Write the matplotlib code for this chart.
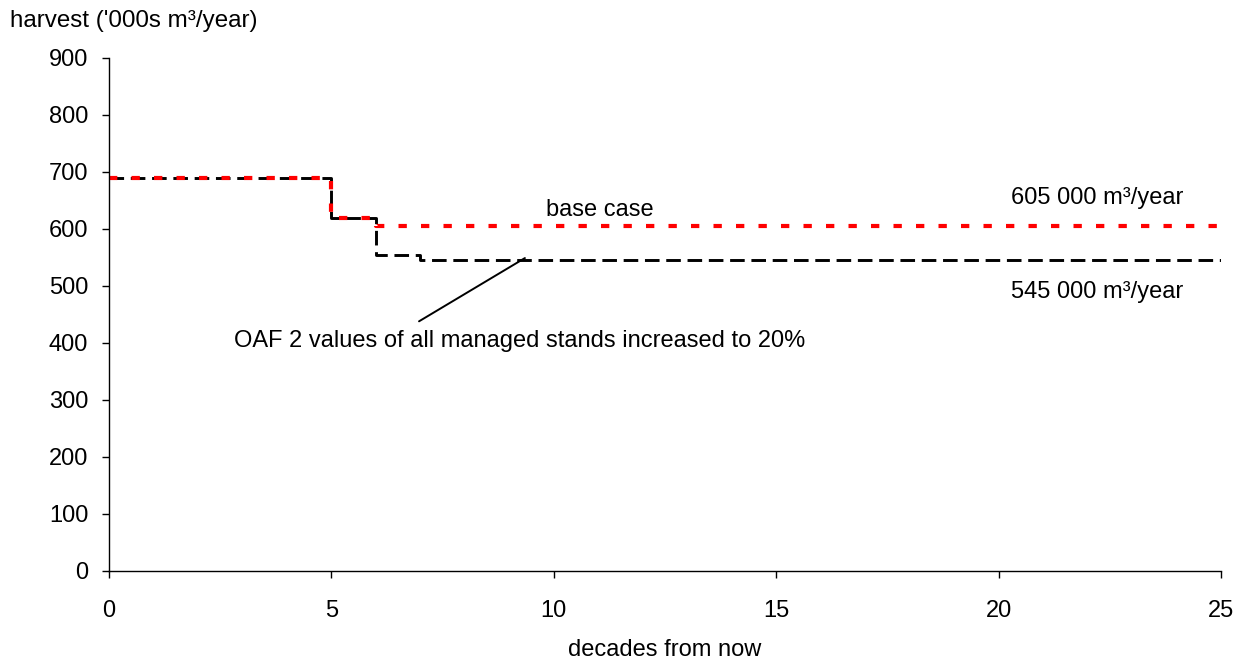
import matplotlib
matplotlib.use("Agg")
import matplotlib.pyplot as plt

plt.rcParams['font.family'] = ['Liberation Sans', 'DejaVu Sans']

# Data
base_x = [0, 5, 6, 25]
base_y = [690, 620, 605, 605]
oaf_x = [0, 5, 6, 7, 25]
oaf_y = [690, 620, 555, 545, 545]
xticks = [0, 5, 10, 15, 20, 25]
yticks = [0, 100, 200, 300, 400, 500, 600, 700, 800, 900]

FS = 17

fig = plt.figure(figsize=(12.4, 6.62), dpi=100)
ax = fig.add_axes([0.0879, 0.1375, 0.8968, 0.7749])

ax.step(oaf_x, oaf_y, where='post', color='black', lw=2.1, dashes=(5.0, 2.3))
ax.step(base_x, base_y, where='post', color='red', lw=3.0, dashes=(2.0, 3.4))

ax.set_xlim(0, 25)
ax.set_ylim(0, 900)
ax.set_xticks(xticks)
ax.set_yticks(yticks)
for s in ['top', 'right']:
    ax.spines[s].set_visible(False)
for s in ['left', 'bottom']:
    ax.spines[s].set_linewidth(1.0)
ax.tick_params(direction='out', length=5, width=1, labelsize=FS)
ax.tick_params(axis='y', pad=10)
ax.tick_params(axis='x', pad=16)

ax.set_xlabel('decades from now', fontsize=FS, labelpad=12)
fig.text(0.008, 0.968, "harvest ('000s m³/year)", fontsize=FS + 0.4, ha='left', va='center')

ax.text(11.04, 633, 'base case', fontsize=FS, ha='center', va='center')
ax.text(24.15, 654, '605 000 m³/year', fontsize=FS, ha='right', va='center')
ax.text(24.15, 489, '545 000 m³/year', fontsize=FS, ha='right', va='center')
ax.annotate('', xy=(9.35, 549), xytext=(6.97, 438),
            arrowprops=dict(arrowstyle='-', color='black', lw=1.4,
                            shrinkA=0, shrinkB=0))
ax.text(9.24, 404, 'OAF 2 values of all managed stands increased to 20%',
        fontsize=FS, ha='center', va='center')

fig.savefig('out.png', dpi=100)
